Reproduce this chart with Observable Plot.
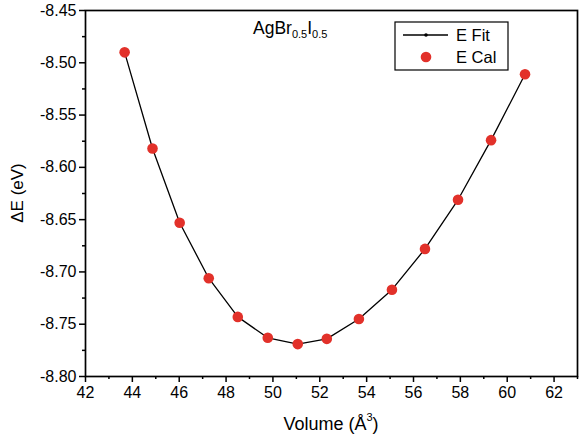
<!DOCTYPE html>
<html><head><meta charset="utf-8">
<script src="https://cdn.jsdelivr.net/npm/d3@7"></script>
<script src="https://cdn.jsdelivr.net/npm/@observablehq/plot@0.6"></script>
<style>
body{margin:0;background:#fff;}
#chart svg{font-family:"Liberation Sans",Arial,sans-serif;}
</style>
</head><body><div id="chart"></div>
<script>
const volume = [43.67, 44.86, 46.02, 47.26, 48.50, 49.78, 51.06, 52.30, 53.67, 55.08, 56.49, 57.90, 59.31, 60.76];
const energy = [-8.490, -8.582, -8.653, -8.706, -8.743, -8.763, -8.769, -8.764, -8.745, -8.717, -8.678, -8.631, -8.574, -8.511];
const xTicks = [42, 44, 46, 48, 50, 52, 54, 56, 58, 60, 62];
const xMinor = [43, 45, 47, 49, 51, 53, 55, 57, 59, 61, 63];
const yTicks = [-8.80, -8.75, -8.70, -8.65, -8.60, -8.55, -8.50, -8.45];
const yMinor = [-8.775, -8.725, -8.675, -8.625, -8.575, -8.525, -8.475];

const data = volume.map((v, i) => ({v, e: energy[i]}));
const red = "#e2312a";

const plot = Plot.plot({
  width: 579, height: 441,
  marginLeft: 85, marginRight: 2, marginTop: 10, marginBottom: 65,
  style: {fontFamily: '"Liberation Sans", Arial, sans-serif', fontSize: "16px", background: "#fff"},
  x: {domain: [42, 63]},
  y: {domain: [-8.80, -8.45]},
  marks: [
    Plot.frame({stroke: "#000", strokeWidth: 1.7}),
    Plot.axisX({ticks: xTicks, tickFormat: d => d, tickSize: 6, tickPadding: 4, label: null, fontSize: 16, strokeWidth: 1.5}),
    Plot.axisX({ticks: xMinor, tickFormat: () => "", tickSize: 3, label: null, strokeWidth: 1.5}),
    Plot.axisY({ticks: yTicks, tickFormat: d => d.toFixed(2), tickSize: 6, tickPadding: 3, label: null, fontSize: 16, strokeWidth: 1.5}),
    Plot.axisY({ticks: yMinor, tickFormat: () => "", tickSize: 3, label: null, strokeWidth: 1.5}),
    Plot.line(data, {x: "v", y: "e", stroke: "#000", strokeWidth: 1.3}),
    Plot.dot(data, {x: "v", y: "e", r: 5.3, fill: red, stroke: "none"})
  ]
});
document.getElementById("chart").appendChild(plot);

const svg = d3.select(plot);
// axis titles
svg.append("text").attr("x", 331).attr("y", 430).attr("text-anchor", "middle")
  .attr("font-size", 18).attr("fill", "#000")
  .call(t => { t.append("tspan").text("Volume (Å"); t.append("tspan").attr("font-size", 11).attr("dy", -9).text("3"); t.append("tspan").attr("dy", 9).text(")"); });
svg.append("text").attr("transform", "translate(23,193) rotate(-90)").attr("text-anchor", "middle")
  .attr("font-size", 17).attr("fill", "#000").text("ΔE (eV)");
// compound label
svg.append("text").attr("x", 253).attr("y", 34).attr("text-anchor", "start").attr("font-size", 17.5).attr("fill", "#000")
  .call(t => {
    t.append("tspan").text("AgBr");
    t.append("tspan").attr("font-size", 11).attr("dy", 4).text("0.5");
    t.append("tspan").attr("dy", -4).text("I");
    t.append("tspan").attr("font-size", 11).attr("dy", 4).text("0.5");
  });
// legend
const lg = svg.append("g").attr("text-anchor", "start");
lg.append("rect").attr("x", 395).attr("y", 22).attr("width", 113).attr("height", 48)
  .attr("fill", "#fff").attr("stroke", "#000").attr("stroke-width", 1.2);
lg.append("line").attr("x1", 403).attr("x2", 448).attr("y1", 35).attr("y2", 35).attr("stroke", "#000").attr("stroke-width", 1.3);
lg.append("circle").attr("cx", 426).attr("cy", 35).attr("r", 1.8).attr("fill", "#000");
lg.append("text").attr("x", 456).attr("y", 41).attr("font-size", 16.5).attr("fill", "#000").text("E Fit");
lg.append("circle").attr("cx", 426).attr("cy", 57).attr("r", 5.3).attr("fill", red);
lg.append("text").attr("x", 456).attr("y", 63).attr("font-size", 16.5).attr("fill", "#000").text("E Cal");
</script>
</body></html>
